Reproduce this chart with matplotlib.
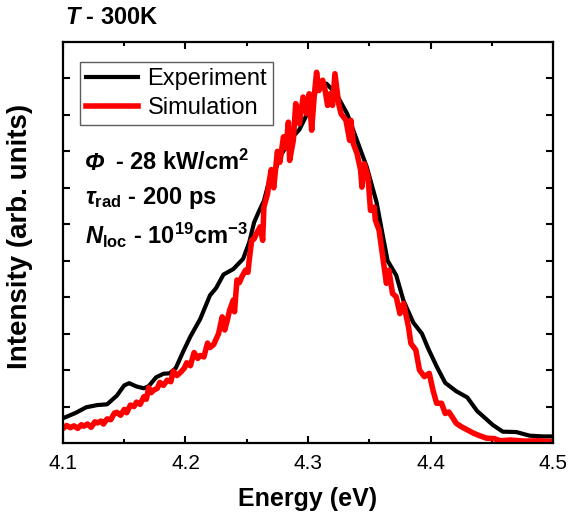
import matplotlib
matplotlib.use('Agg')
import matplotlib.pyplot as plt
from matplotlib.ticker import MultipleLocator

plt.rcParams['font.family'] = ['Liberation Sans', 'DejaVu Sans']
plt.rcParams['mathtext.fontset'] = 'custom'
plt.rcParams['mathtext.rm'] = 'Liberation Sans:bold'
plt.rcParams['mathtext.bf'] = 'Liberation Sans:bold'
plt.rcParams['mathtext.it'] = 'Liberation Sans:bold:italic'

# experiment (black)
exp_x = [4.100, 4.110, 4.119, 4.128, 4.136, 4.144, 4.150, 4.154, 4.160, 4.166,
         4.170, 4.176, 4.182, 4.187, 4.192, 4.198, 4.204, 4.212, 4.220, 4.225,
         4.231, 4.239, 4.247, 4.252, 4.256, 4.260, 4.264, 4.268, 4.272, 4.277,
         4.285, 4.293, 4.302, 4.307, 4.315, 4.323, 4.332, 4.340, 4.348, 4.356,
         4.361, 4.365, 4.372, 4.378, 4.386, 4.393, 4.398, 4.405, 4.412, 4.421,
         4.430, 4.438, 4.451, 4.459, 4.470, 4.481, 4.492, 4.500]
exp_y = [0.068, 0.082, 0.098, 0.104, 0.106, 0.130, 0.158, 0.164, 0.155, 0.150,
         0.156, 0.180, 0.190, 0.191, 0.205, 0.250, 0.292, 0.340, 0.405, 0.425,
         0.462, 0.477, 0.505, 0.550, 0.605, 0.636, 0.664, 0.715, 0.735, 0.784,
         0.830, 0.860, 0.921, 0.970, 0.986, 0.958, 0.903, 0.830, 0.757, 0.660,
         0.570, 0.500, 0.460, 0.390, 0.330, 0.300, 0.260, 0.210, 0.165, 0.142,
         0.125, 0.088, 0.049, 0.031, 0.030, 0.020, 0.018, 0.018]

# simulation (red)
sim_x = [4.100, 4.103, 4.106, 4.109, 4.112, 4.115, 4.117, 4.120, 4.123, 4.126,
         4.128, 4.131, 4.133, 4.136, 4.139, 4.142, 4.144, 4.147, 4.150, 4.152,
         4.155, 4.158, 4.160, 4.163, 4.166, 4.168, 4.170, 4.172, 4.174, 4.177,
         4.179, 4.182, 4.185, 4.188, 4.190, 4.193, 4.196, 4.199, 4.201, 4.204,
         4.207, 4.210, 4.212, 4.215, 4.218, 4.220, 4.223, 4.225, 4.227, 4.230,
         4.232, 4.234, 4.236, 4.239, 4.240, 4.242, 4.244, 4.246, 4.249, 4.251,
         4.252, 4.254, 4.256, 4.258, 4.261, 4.263, 4.264, 4.267, 4.268, 4.270,
         4.272, 4.275, 4.277, 4.280, 4.282, 4.284, 4.285, 4.288, 4.290, 4.293,
         4.296, 4.299, 4.301, 4.303, 4.305, 4.307, 4.309, 4.312, 4.314, 4.316,
         4.318, 4.320, 4.322, 4.325, 4.327, 4.331, 4.334, 4.335, 4.337, 4.340,
         4.343, 4.344, 4.346, 4.349, 4.351, 4.354, 4.355, 4.358, 4.361, 4.364,
         4.366, 4.369, 4.372, 4.375, 4.378, 4.382, 4.384, 4.388, 4.391, 4.395,
         4.399, 4.402, 4.405, 4.409, 4.412, 4.415, 4.417, 4.421, 4.425, 4.430,
         4.435, 4.440, 4.446, 4.452, 4.457, 4.465, 4.477, 4.488, 4.500]
sim_y = [0.040, 0.048, 0.042, 0.047, 0.040, 0.050, 0.046, 0.052, 0.043, 0.058,
         0.055, 0.060, 0.052, 0.066, 0.064, 0.082, 0.084, 0.076, 0.092, 0.083,
         0.104, 0.100, 0.112, 0.106, 0.127, 0.120, 0.152, 0.138, 0.145, 0.150,
         0.166, 0.158, 0.172, 0.168, 0.197, 0.185, 0.194, 0.205, 0.220, 0.212,
         0.248, 0.232, 0.240, 0.236, 0.274, 0.262, 0.270, 0.285, 0.300, 0.346,
         0.310, 0.335, 0.364, 0.392, 0.360, 0.447, 0.440, 0.456, 0.474, 0.468,
         0.501, 0.556, 0.560, 0.575, 0.593, 0.556, 0.647, 0.684, 0.711, 0.750,
         0.700, 0.800, 0.770, 0.840, 0.810, 0.880, 0.775, 0.830, 0.931, 0.876,
         0.949, 0.903, 0.958, 0.858, 0.949, 1.017, 0.967, 0.995, 0.967, 0.926,
         0.958, 0.926, 1.013, 0.931, 0.903, 0.885, 0.830, 0.885, 0.821, 0.794,
         0.748, 0.702, 0.766, 0.730, 0.638, 0.647, 0.611, 0.584, 0.510, 0.438,
         0.474, 0.410, 0.401, 0.355, 0.383, 0.319, 0.273, 0.255, 0.200, 0.182,
         0.191, 0.145, 0.109, 0.109, 0.081, 0.085, 0.075, 0.054, 0.045, 0.036,
         0.027, 0.020, 0.013, 0.012, 0.006, 0.008, 0.005, 0.006, 0.004]

x_ticks = [4.1, 4.2, 4.3, 4.4, 4.5]


def main():
    fig = plt.figure(figsize=(5.69, 5.23), dpi=100)
    ax = fig.add_axes([0.1107, 0.153, 0.8612, 0.7667])

    ax.plot(exp_x, exp_y, color='black', lw=3.0, label='Experiment')
    ax.plot(sim_x, sim_y, color='#ff0000', lw=4.0, label='Simulation')

    ax.set_xlim(4.1, 4.5)
    ax.set_ylim(0, 1.1)
    ax.set_xticks(x_ticks)
    ax.set_xticklabels([f'{v:.1f}' for v in x_ticks])
    ax.xaxis.set_minor_locator(MultipleLocator(0.05))
    ax.set_yticks([0.1 * i for i in range(1, 11)])
    ax.set_yticklabels([])
    ax.tick_params(which='both', direction='in', top=True, right=True,
                   width=1.5, labelsize=15, pad=8)
    ax.tick_params(which='major', length=5)
    ax.tick_params(which='minor', length=3)
    for s in ax.spines.values():
        s.set_linewidth(1.6)

    ax.set_xlabel('Energy (eV)', fontsize=18, fontweight='bold', labelpad=10)
    ax.set_ylabel('Intensity (arb. units)', fontsize=20, fontweight='bold')
    ax.yaxis.set_label_coords(-0.061, 0.516)

    leg = ax.legend(loc='upper left', bbox_to_anchor=(0.035, 0.95), fontsize=17,
                    frameon=True, fancybox=False, handlelength=2.2,
                    handletextpad=0.4, borderpad=0.25, labelspacing=0.3,
                    borderaxespad=0)
    leg.get_frame().set_edgecolor('#333333')
    leg.get_frame().set_linewidth(1.0)

    ax.text(0.045, 0.68, 'Φ', transform=ax.transAxes, fontsize=17,
            fontweight='bold', fontstyle='italic')
    ax.text(0.106, 0.68, r'- 28 kW/cm$^{2}$', transform=ax.transAxes,
            fontsize=17, fontweight='bold')
    ax.text(0.045, 0.596, r'$\mathit{τ}_{\mathrm{rad}}$ - 200 ps', transform=ax.transAxes,
            fontsize=17, fontweight='bold')
    ax.text(0.045, 0.497, r'$\mathit{N}_{\mathrm{loc}}$ - 10$^{19}$cm$^{-3}$',
            transform=ax.transAxes, fontsize=17, fontweight='bold')

    fig.text(0.114, 0.967, r'$\mathit{T}$ - 300K', fontsize=17, fontweight='bold',
             va='center')

    fig.savefig('out.png', dpi=100)


if __name__ == '__main__':
    main()
